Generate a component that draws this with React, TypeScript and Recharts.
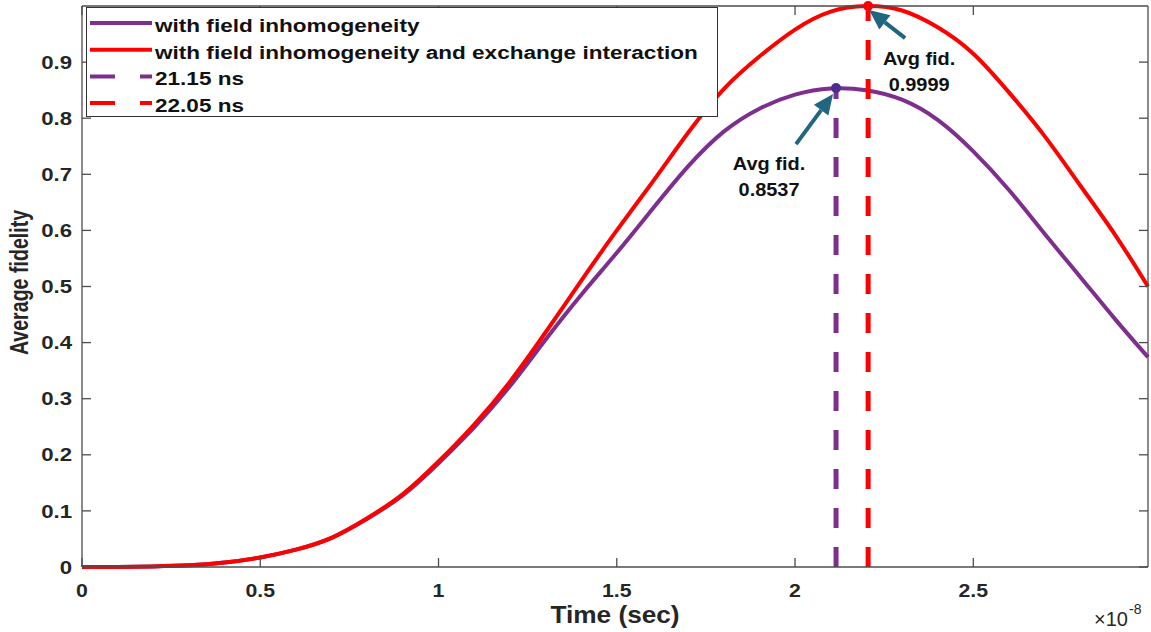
import React from "react";
import { LineChart, Line, XAxis, YAxis, Legend, ReferenceDot } from "recharts";

// time axis in units of 1e-8 s
const time = [0, 0.1, 0.2, 0.3, 0.4, 0.5, 0.6, 0.7, 0.8, 0.9, 1.0, 1.1, 1.2, 1.3, 1.4, 1.5, 1.6, 1.7, 1.8, 1.9, 2.0, 2.1, 2.2, 2.3, 2.4, 2.5, 2.6, 2.7, 2.8, 2.9, 2.99];
const fidInhom = [0, 0, 0.001, 0.003, 0.008, 0.017, 0.031, 0.052, 0.086, 0.128, 0.185, 0.249, 0.322, 0.405, 0.485, 0.56, 0.638, 0.714, 0.776, 0.817, 0.842, 0.853, 0.85, 0.833, 0.797, 0.741, 0.672, 0.594, 0.517, 0.44, 0.374];
const fidExchange = [0, 0, 0.001, 0.003, 0.008, 0.017, 0.031, 0.052, 0.087, 0.13, 0.188, 0.254, 0.33, 0.418, 0.51, 0.6, 0.686, 0.774, 0.852, 0.91, 0.958, 0.99, 0.9999, 0.992, 0.962, 0.915, 0.846, 0.768, 0.68, 0.59, 0.5];

const xTicks = [0, 0.5, 1, 1.5, 2, 2.5];
const yTicks = [0, 0.1, 0.2, 0.3, 0.4, 0.5, 0.6, 0.7, 0.8, 0.9];

const seriesNames = [
  "with field inhomogeneity",
  "with field inhomogeneity and exchange interaction",
  "21.15 ns",
  "22.05 ns",
];
const optTimes = [2.115, 2.205];
const optFid = [0.8537, 0.9999];

const PURPLE = "#7E2F8E";
const RED = "#FF0000";
const ARROW = "#21667f";
const AXIS = "#4d4d4d";
const FONT = "'Liberation Sans', Arial, Helvetica, sans-serif";

// layout
const W = 1151;
const H = 632;
const MARGIN = { top: 6, right: 3, bottom: 0, left: 0 };
const X_AXIS_H = 65;
const Y_AXIS_W = 82;
const PLOT_W = W - MARGIN.left - MARGIN.right - Y_AXIS_W;
const PLOT_H = H - MARGIN.top - MARGIN.bottom - X_AXIS_H;
const TICK_LEN = 9;

const curveData = time.map((t, i) => ({ t, inhom: fidInhom[i], exch: fidExchange[i] }));
const markInhom = [{ t: optTimes[0], v: 0 }, { t: optTimes[0], v: optFid[0] }];
const markExch = [{ t: optTimes[1], v: 0 }, { t: optTimes[1], v: optFid[1] }];

const legendRows = [
  { name: seriesNames[0], color: PURPLE, dashed: false },
  { name: seriesNames[1], color: RED, dashed: false },
  { name: seriesNames[2], color: PURPLE, dashed: true },
  { name: seriesNames[3], color: RED, dashed: true },
];

// bottom tick: label below, inward tick marks on bottom and top edges
const XTick = (props: any) => {
  const { x, y, payload } = props;
  const top = y - PLOT_H;
  return (
    <g>
      <line x1={x} x2={x} y1={y} y2={y - TICK_LEN} stroke={AXIS} strokeWidth={1.3} />
      <line x1={x} x2={x} y1={top} y2={top + TICK_LEN} stroke={AXIS} strokeWidth={1.3} />
      <text transform={`translate(${x},${y + 30}) scale(1.15,1)`} textAnchor="middle"
        fontFamily={FONT} fontWeight="bold" fontSize={18.5} fill="#262626">
        {payload.value}
      </text>
    </g>
  );
};

// left tick: label at left, inward tick marks on left and right edges
const YTick = (props: any) => {
  const { x, y, payload } = props;
  const left = x + 10;
  const right = left + PLOT_W;
  return (
    <g>
      <line x1={left} x2={left + TICK_LEN} y1={y} y2={y} stroke={AXIS} strokeWidth={1.3} />
      <line x1={right} x2={right - TICK_LEN} y1={y} y2={y} stroke={AXIS} strokeWidth={1.3} />
      <text transform={`translate(${x},${y}) scale(1.2,1)`} textAnchor="end" dy="0.36em"
        fontFamily={FONT} fontWeight="bold" fontSize={18.5} fill="#262626">
        {payload.value}
      </text>
    </g>
  );
};

const XLabel = (props: any) => {
  const vb = props.viewBox ?? { x: 82, y: 567, width: 1066, height: 65 };
  const right = vb.x + vb.width;
  return (
    <g fontFamily={FONT} fill="#262626">
      <text transform={`translate(${vb.x + vb.width / 2},${vb.y + 56}) scale(1.14,1)`} textAnchor="middle"
        fontSize={23} fontWeight="bold">
        Time (sec)
      </text>
      <text x={right - 20} y={vb.y + 59} textAnchor="end" fontSize={20}>×10</text>
      <text x={right - 19} y={vb.y + 47} textAnchor="start" fontSize={14}>-8</text>
    </g>
  );
};

const YLabel = (props: any) => {
  const vb = props.viewBox ?? { x: 0, y: 6, width: 82, height: 561 };
  const cy = vb.y + vb.height / 2 - 4;
  return (
    <text transform={`translate(${vb.x + 28},${cy}) rotate(-90) scale(0.98,1.3)`} textAnchor="middle"
      fontFamily={FONT} fontWeight="bold" fontSize={20} fill="#262626">
      Average fidelity
    </text>
  );
};

const LegendBox = () => (
  <svg width={633} height={111} style={{ display: "block" }}>
    <rect x={0.5} y={0.5} width={631} height={109} fill="#fff" stroke="#333" strokeWidth={1} />
    {legendRows.map((row, i) => {
      const ly = 16 + i * 26.7;
      return (
        <g key={row.name}>
          <line x1={4} x2={66} y1={ly} y2={ly} stroke={row.color} strokeWidth={4}
            strokeDasharray={row.dashed ? "25 25" : undefined} />
          <text transform={`translate(69,${ly + 9}) scale(1.22,1)`} fontFamily={FONT}
            fontWeight="bold" fontSize={18.5} fill="#111">
            {row.name}
          </text>
        </g>
      );
    })}
  </svg>
);

const Arrow = ({ x1, y1, x2, y2 }: { x1: number; y1: number; x2: number; y2: number }) => {
  const dx = x2 - x1;
  const dy = y2 - y1;
  const len = Math.hypot(dx, dy);
  const ux = dx / len;
  const uy = dy / len;
  const headLen = 20;
  const headW = 9;
  const bx = x2 - ux * headLen;
  const by = y2 - uy * headLen;
  return (
    <g>
      <line x1={x1} y1={y1} x2={bx} y2={by} stroke={ARROW} strokeWidth={4} />
      <polygon points={`${x2},${y2} ${bx - uy * headW},${by + ux * headW} ${bx + uy * headW},${by - ux * headW}`} fill={ARROW} />
    </g>
  );
};

const PeakMarker = (props: any) => {
  const { cx, cy, fill, tip, tail, textAt, value } = props;
  return (
    <g>
      <circle cx={cx} cy={cy} r={5} fill={fill} />
      <Arrow x1={cx + tail[0]} y1={cy + tail[1]} x2={cx + tip[0]} y2={cy + tip[1]} />
      <g fontFamily={FONT} fontWeight="bold" fontSize={19} fill="#111" textAnchor="middle">
        <text transform={`translate(${cx + textAt[0]},${cy + textAt[1]}) scale(1.05,1)`}>Avg fid.</text>
        <text transform={`translate(${cx + textAt[0]},${cy + textAt[1] + 26}) scale(1.05,1)`}>{value}</text>
      </g>
    </g>
  );
};

export default function App() {
  const frame = { stroke: AXIS, strokeWidth: 1.3 };
  return (
    <div style={{ position: "absolute", left: 0, top: 0, background: "#fff" }}>
      <LineChart width={W} height={H} margin={MARGIN}>
        <XAxis dataKey="t" type="number" domain={[0, 2.99]} ticks={xTicks} interval={0}
          height={X_AXIS_H} tickLine={false} tickSize={0} tickMargin={0}
          axisLine={frame} tick={<XTick />} label={{ content: XLabel }} />
        <XAxis xAxisId="top" orientation="top" mirror height={1} type="number" domain={[0, 2.99]} allowDataOverflow
          ticks={xTicks} tick={false} tickLine={false} axisLine={frame} />
        <YAxis type="number" domain={[0, 1]} ticks={yTicks} interval={0} width={Y_AXIS_W}
          tickLine={false} tickSize={0} tickMargin={10}
          axisLine={frame} tick={<YTick />} label={{ content: YLabel }} />
        <YAxis yAxisId="right" orientation="right" mirror width={1} type="number" domain={[0, 1]} allowDataOverflow
          ticks={yTicks} tick={false} tickLine={false} axisLine={frame} />

        <Line data={curveData} dataKey="inhom" name={seriesNames[0]} type="natural" stroke={PURPLE}
          strokeWidth={4} dot={false} isAnimationActive={false} />
        <Line data={curveData} dataKey="exch" name={seriesNames[1]} type="natural" stroke={RED}
          strokeWidth={4} dot={false} isAnimationActive={false} />
        <Line data={markInhom} dataKey="v" name={seriesNames[2]} type="linear" stroke={PURPLE}
          strokeWidth={5} strokeDasharray="20 19" dot={false} isAnimationActive={false} />
        <Line data={markExch} dataKey="v" name={seriesNames[3]} type="linear" stroke={RED}
          strokeWidth={5} strokeDasharray="20 19" dot={false} isAnimationActive={false} />

        <ReferenceDot x={optTimes[0]} y={optFid[0]} r={5}
          shape={(p: any) => <PeakMarker {...p} fill="#4b2d8f" tip={[-3, 6]} tail={[-40, 56]} textAt={[-67, 82]} value={optFid[0].toFixed(4)} />} />
        <ReferenceDot x={optTimes[1]} y={optFid[1]} r={5}
          shape={(p: any) => <PeakMarker {...p} fill={RED} tip={[1, 4]} tail={[37, 32]} textAt={[51, 59]} value={optFid[1].toFixed(4)} />} />

        <Legend verticalAlign="middle" align="center" layout="horizontal" content={LegendBox}
          wrapperStyle={{ left: 86, top: 7, width: 633, height: 111, margin: 0, padding: 0 }} />
      </LineChart>
    </div>
  );
}
